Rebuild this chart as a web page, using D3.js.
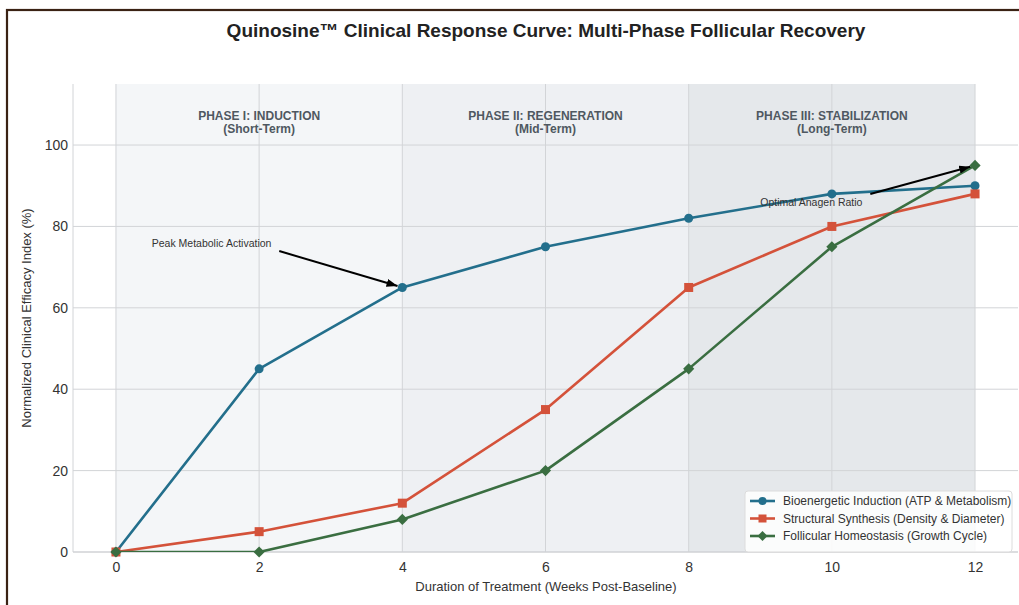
<!DOCTYPE html>
<html>
<head>
<meta charset="utf-8">
<script src="https://cdn.jsdelivr.net/npm/d3@7"></script>
<style>
  html, body { margin: 0; padding: 0; background: #fff; }
  svg { display: block; font-family: "Liberation Sans", Arial, sans-serif; }
</style>
</head>
<body>
<svg id="chart" width="1019" height="605"></svg>
<script>
const weeks = [0, 2, 4, 6, 8, 10, 12];
const bioenergetic = [0, 45, 65, 75, 82, 88, 90];
const structural = [0, 5, 12, 35, 65, 80, 88];
const follicular = [0, 0, 8, 20, 45, 75, 95];
const seriesNames = [
  "Bioenergetic Induction (ATP & Metabolism)",
  "Structural Synthesis (Density & Diameter)",
  "Follicular Homeostasis (Growth Cycle)"
];
const seriesColors = ["#236f8c", "#d4523a", "#3a6e41"];
const seriesMarkers = ["circle", "square", "diamond"];
const xTicks = [0, 2, 4, 6, 8, 10, 12];
const yTicks = [0, 20, 40, 60, 80, 100];
const phases = [
  { start: 0, end: 4, title: "PHASE I: INDUCTION", sub: "(Short-Term)", color: "#f4f6f8" },
  { start: 4, end: 8, title: "PHASE II: REGENERATION", sub: "(Mid-Term)", color: "#eef0f3" },
  { start: 8, end: 12, title: "PHASE III: STABILIZATION", sub: "(Long-Term)", color: "#e5e8eb" }
];
const annotations = [
  { text: "Peak Metabolic Activation", tx: 0.5, ty: 75, ax: 4, ay: 65 },
  { text: "Optimal Anagen Ratio", tx: 9.0, ty: 85, ax: 12, ay: 95 }
];

const svg = d3.select("#chart");
const L = 73, R = 1018, T = 84, B = 552;
const x = d3.scaleLinear().domain([-0.6, 12.6]).range([L, R]);
const y = d3.scaleLinear().domain([0, 115]).range([B, T]);

// frame border (top & left visible)
svg.append("rect").attr("x", 7).attr("y", 10).attr("width", 1030).attr("height", 620)
  .attr("fill", "none").attr("stroke", "#3a2214").attr("stroke-width", 2.2);

// defs
const defs = svg.append("defs");
defs.append("marker").attr("id", "arrow").attr("viewBox", "0 0 10 10")
  .attr("refX", 10).attr("refY", 5).attr("markerWidth", 11).attr("markerHeight", 8)
  .attr("markerUnits", "userSpaceOnUse").attr("orient", "auto")
  .attr("preserveAspectRatio", "none")
  .append("path").attr("d", "M0,0 L10,5 L0,10 z").attr("fill", "#000");
defs.append("clipPath").attr("id", "clip").append("rect")
  .attr("x", L).attr("y", T).attr("width", R - L).attr("height", B - T);

// phase backgrounds
svg.append("g").selectAll("rect").data(phases).join("rect")
  .attr("x", d => x(d.start)).attr("y", T)
  .attr("width", d => x(d.end) - x(d.start)).attr("height", B - T)
  .attr("fill", d => d.color);

// grid
const grid = svg.append("g");
grid.selectAll("line.v").data(xTicks).join("line")
  .attr("x1", d => x(d)).attr("x2", d => x(d)).attr("y1", T).attr("y2", B)
  .attr("stroke", "#d2d4d7").attr("stroke-width", 1);
grid.selectAll("line.h").data(yTicks).join("line")
  .attr("x1", L).attr("x2", R).attr("y1", d => y(d)).attr("y2", d => y(d))
  .attr("stroke", "#d2d4d7").attr("stroke-width", 1);

// spines
svg.append("line").attr("x1", L).attr("x2", L).attr("y1", T).attr("y2", B).attr("stroke", "#d2d4d7");
svg.append("line").attr("x1", L).attr("x2", R).attr("y1", B).attr("y2", B).attr("stroke", "#cfd1d4");

// axes via d3
const xAxis = svg.append("g").attr("transform", `translate(0,${B})`)
  .call(d3.axisBottom(x).tickValues(xTicks).tickSize(0).tickPadding(10).tickFormat(d3.format("d")));
const yAxis = svg.append("g").attr("transform", `translate(${L},0)`)
  .call(d3.axisLeft(y).tickValues(yTicks).tickSize(0).tickPadding(5).tickFormat(d3.format("d")));
[xAxis, yAxis].forEach(a => {
  a.select(".domain").remove();
  a.selectAll("text").attr("font-size", 14).attr("fill", "#333")
    .attr("font-family", "'Liberation Sans', Arial, sans-serif");
});

// phase labels
const pl = svg.append("g").selectAll("g").data(phases).join("g");
pl.append("text").attr("x", d => x((d.start + d.end) / 2)).attr("y", 120)
  .attr("text-anchor", "middle").attr("font-size", 12).attr("font-weight", "bold")
  .attr("fill", "#4f5861").text(d => d.title);
pl.append("text").attr("x", d => x((d.start + d.end) / 2)).attr("y", 133)
  .attr("text-anchor", "middle").attr("font-size", 12).attr("font-weight", "bold")
  .attr("fill", "#4f5861").text(d => d.sub);

// series
const allSeries = [bioenergetic, structural, follicular];
const line = d3.line().x((d, i) => x(weeks[i])).y(d => y(d));
const plot = svg.append("g").attr("clip-path", "url(#clip)");
function drawMarker(g, type, color, cx, cy, s) {
  if (type === "circle") {
    g.append("circle").attr("cx", cx).attr("cy", cy).attr("r", s * 0.5).attr("fill", color);
  } else if (type === "square") {
    g.append("rect").attr("x", cx - s / 2).attr("y", cy - s / 2).attr("width", s).attr("height", s).attr("fill", color);
  } else {
    const h = s * 0.62;
    g.append("path").attr("d", `M${cx},${cy - h} L${cx + h},${cy} L${cx},${cy + h} L${cx - h},${cy} Z`).attr("fill", color);
  }
}
allSeries.forEach((vals, si) => {
  plot.append("path").datum(vals).attr("d", line).attr("fill", "none")
    .attr("stroke", seriesColors[si]).attr("stroke-width", 2.6).attr("stroke-linejoin", "round");
});
allSeries.forEach((vals, si) => {
  const g = svg.append("g");
  vals.forEach((v, i) => drawMarker(g, seriesMarkers[si], seriesColors[si], x(weeks[i]), y(v), 9));
});

// annotations (arrow from nearest text-bbox corner, shrunk at both ends)
const an = svg.append("g");
annotations.forEach(a => {
  const t = an.append("text").attr("x", x(a.tx)).attr("y", y(a.ty)).attr("font-size", 10.5)
    .attr("fill", "#333").text(a.text);
  const bb = t.node().getBBox();
  const px = x(a.ax), py = y(a.ay);
  const cx = bb.x + bb.width;
  const cy = py > bb.y + bb.height ? bb.y + bb.height : (py < bb.y ? bb.y : bb.y + bb.height / 2);
  const dx = px - cx, dy = py - cy, len = Math.hypot(dx, dy);
  const ux = dx / len, uy = dy / len;
  an.append("line").attr("x1", cx + ux * 8).attr("y1", cy + uy * 8)
    .attr("x2", px - ux * 5).attr("y2", py - uy * 5)
    .attr("stroke", "#000").attr("stroke-width", 2).attr("marker-end", "url(#arrow)");
});

// legend
const lg = svg.append("g").attr("transform", "translate(745,491)");
lg.append("rect").attr("x", 0).attr("y", 0).attr("width", 267).attr("height", 61).attr("rx", 3)
  .attr("fill", "#ffffff").attr("fill-opacity", 0.85).attr("stroke", "#dcdcdc");
seriesNames.forEach((n, i) => {
  const yy = 10 + i * 17.5;
  lg.append("line").attr("x1", 5).attr("x2", 30).attr("y1", yy).attr("y2", yy)
    .attr("stroke", seriesColors[i]).attr("stroke-width", 2.6);
  drawMarker(lg, seriesMarkers[i], seriesColors[i], 17.5, yy, 8);
  lg.append("text").attr("x", 38).attr("y", yy + 4).attr("font-size", 12).attr("fill", "#333").text(n);
});

// title and axis labels
svg.append("text").attr("x", 546).attr("y", 37).attr("text-anchor", "middle")
  .attr("font-size", 19).attr("font-weight", "bold").attr("fill", "#222")
  .text("Quinosine™ Clinical Response Curve: Multi-Phase Follicular Recovery");
svg.append("text").attr("x", 546).attr("y", 591).attr("text-anchor", "middle")
  .attr("font-size", 13).attr("fill", "#333").text("Duration of Treatment (Weeks Post-Baseline)");
svg.append("text").attr("transform", "translate(31,318) rotate(-90)").attr("text-anchor", "middle")
  .attr("font-size", 13).attr("fill", "#333").text("Normalized Clinical Efficacy Index (%)");
</script>
</body>
</html>
